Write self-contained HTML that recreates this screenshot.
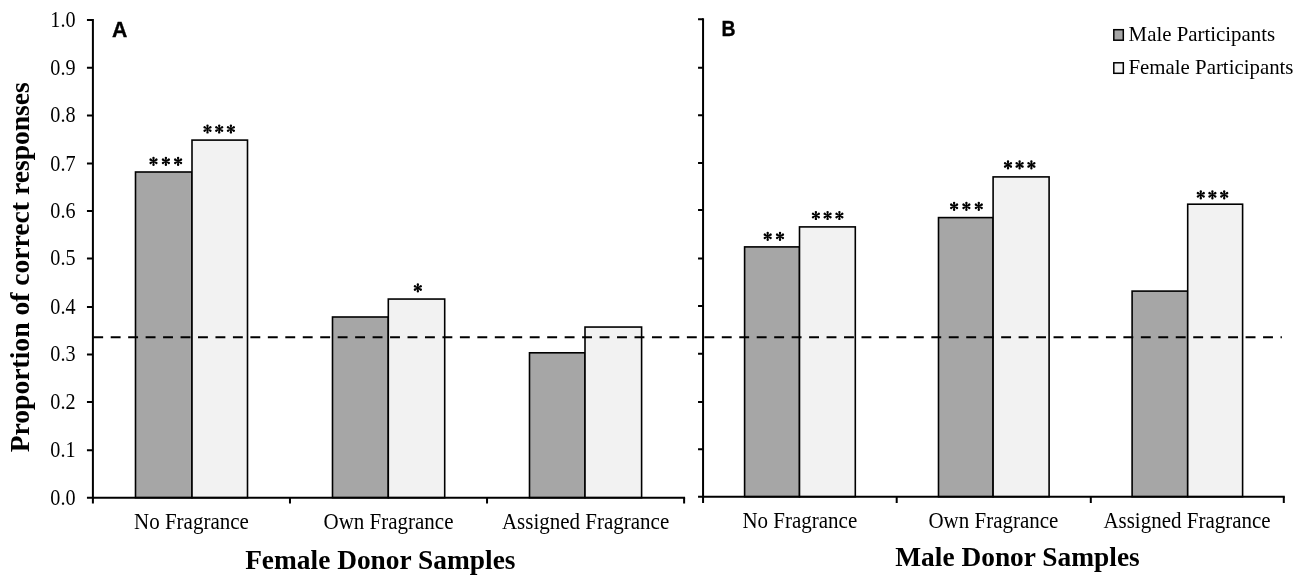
<!DOCTYPE html>
<html><head><meta charset="utf-8"><style>
html,body{margin:0;padding:0;background:#fff;}
body{width:1303px;height:581px;overflow:hidden;}
svg{display:block;filter:grayscale(1);}
text{font-family:"Liberation Serif",serif;fill:#000;}
.s{font-family:"Liberation Sans",sans-serif;font-weight:bold;}
</style></head><body>
<svg width="1303" height="581" viewBox="0 0 1303 581">
<rect width="1303" height="581" fill="#fff"/>
<!-- bars -->
<rect x="135.5" y="172.0" width="56.50" height="325.67" fill="#a6a6a6" stroke="#000" stroke-width="1.6"/>
<rect x="192.0" y="140.1" width="55.50" height="357.57" fill="#f2f2f2" stroke="#000" stroke-width="1.6"/>
<rect x="332.5" y="317.0" width="55.80" height="180.67" fill="#a6a6a6" stroke="#000" stroke-width="1.6"/>
<rect x="388.3" y="299.05" width="56.40" height="198.62" fill="#f2f2f2" stroke="#000" stroke-width="1.6"/>
<rect x="529.5" y="352.8" width="55.50" height="144.87" fill="#a6a6a6" stroke="#000" stroke-width="1.6"/>
<rect x="585.0" y="327.05" width="56.60" height="170.62" fill="#f2f2f2" stroke="#000" stroke-width="1.6"/>
<rect x="744.6" y="246.9" width="54.90" height="249.80" fill="#a6a6a6" stroke="#000" stroke-width="1.6"/>
<rect x="799.5" y="226.9" width="55.80" height="269.80" fill="#f2f2f2" stroke="#000" stroke-width="1.6"/>
<rect x="938.5" y="217.6" width="54.60" height="279.10" fill="#a6a6a6" stroke="#000" stroke-width="1.6"/>
<rect x="993.1" y="176.9" width="56.00" height="319.80" fill="#f2f2f2" stroke="#000" stroke-width="1.6"/>
<rect x="1132.1" y="291.1" width="55.60" height="205.60" fill="#a6a6a6" stroke="#000" stroke-width="1.6"/>
<rect x="1187.7" y="204.2" width="54.90" height="292.50" fill="#f2f2f2" stroke="#000" stroke-width="1.6"/>
<line x1="93.24" y1="337.15" x2="1281.9" y2="337.15" stroke="#000" stroke-width="2" stroke-dasharray="9.9 7.56"/>
<path d="M92.9,19.0 V503.5 M86.95,497.67 H685.11" fill="none" stroke="#000" stroke-width="2"/>
<path d="M86.95,450.17H92.9M86.95,401.98H92.9M86.95,354.41H92.9M86.95,306.93H92.9M86.95,258.41H92.9M86.95,211.10H92.9M86.95,163.59H92.9M86.95,115.41H92.9M86.95,67.76H92.9M86.95,20.00H92.9M289.97,497.67V503.5M487.04,497.67V503.5M684.11,497.67V503.5" fill="none" stroke="#000" stroke-width="2"/>
<path d="M703.06,18.3 V502.9 M698.04,496.7 H1284.80" fill="none" stroke="#000" stroke-width="2"/>
<path d="M698.04,449.20H703.06M698.04,401.95H703.06M698.04,353.70H703.06M698.04,306.05H703.06M698.04,258.40H703.06M698.04,210.05H703.06M698.04,163.00H703.06M698.04,115.30H703.06M698.04,67.70H703.06M698.04,19.30H703.06M896.7,496.7V502.9M1090.8,496.7V502.9M1283.8,496.7V502.9" fill="none" stroke="#000" stroke-width="2"/>
<text transform="translate(75.5,504.67) scale(0.96,1.05)" font-size="21" text-anchor="end">0.0</text>
<text transform="translate(75.5,457.17) scale(0.96,1.05)" font-size="21" text-anchor="end">0.1</text>
<text transform="translate(75.5,408.98) scale(0.96,1.05)" font-size="21" text-anchor="end">0.2</text>
<text transform="translate(75.5,361.41) scale(0.96,1.05)" font-size="21" text-anchor="end">0.3</text>
<text transform="translate(75.5,313.93) scale(0.96,1.05)" font-size="21" text-anchor="end">0.4</text>
<text transform="translate(75.5,265.41) scale(0.96,1.05)" font-size="21" text-anchor="end">0.5</text>
<text transform="translate(75.5,218.10) scale(0.96,1.05)" font-size="21" text-anchor="end">0.6</text>
<text transform="translate(75.5,170.59) scale(0.96,1.05)" font-size="21" text-anchor="end">0.7</text>
<text transform="translate(75.5,122.41) scale(0.96,1.05)" font-size="21" text-anchor="end">0.8</text>
<text transform="translate(75.5,74.76) scale(0.96,1.05)" font-size="21" text-anchor="end">0.9</text>
<text transform="translate(75.5,27.00) scale(0.96,1.05)" font-size="21" text-anchor="end">1.0</text>
<text transform="translate(28.9,452.3) rotate(-90)" font-size="27.6" font-weight="bold">Proportion of correct responses</text>
<text transform="translate(191.44,528.6) scale(1,1.06)" font-size="21" text-anchor="middle">No Fragrance</text>
<text transform="translate(799.85,527.8) scale(1,1.06)" font-size="21" text-anchor="middle">No Fragrance</text>
<text transform="translate(388.50,528.6) scale(1,1.06)" font-size="21" text-anchor="middle">Own Fragrance</text>
<text transform="translate(993.43,527.8) scale(1,1.06)" font-size="21" text-anchor="middle">Own Fragrance</text>
<text transform="translate(585.57,528.6) scale(1,1.06)" font-size="21" text-anchor="middle">Assigned Fragrance</text>
<text transform="translate(1187.01,527.8) scale(1,1.06)" font-size="21" text-anchor="middle">Assigned Fragrance</text>
<text x="380.3" y="568.8" font-size="27.4" font-weight="bold" text-anchor="middle">Female Donor Samples</text>
<text x="1017.5" y="565.5" font-size="27.4" font-weight="bold" text-anchor="middle">Male Donor Samples</text>
<path fill="#000" fill-rule="nonzero" transform="translate(153.5,161.3)" d="M-0.350,-0.000L-1.200,-3.400A1.2,1.2 0 0 1 1.200,-3.400L0.350,0.000ZM0.350,-0.000L1.200,3.400A1.2,1.2 0 0 1 -1.200,3.400L-0.350,0.000ZM-0.175,-0.303L2.344,-2.739A1.2,1.2 0 0 1 3.544,-0.661L0.175,0.303ZM0.175,-0.303L3.544,0.661A1.2,1.2 0 0 1 2.344,2.739L-0.175,0.303ZM0.175,0.303L-2.344,2.739A1.2,1.2 0 0 1 -3.544,0.661L-0.175,-0.303ZM-0.175,0.303L-3.544,-0.661A1.2,1.2 0 0 1 -2.344,-2.739L0.175,-0.303ZM-0.95,0A0.95,0.95 0 1 1 0.95,0A0.95,0.95 0 1 1 -0.95,0Z"/>
<path fill="#000" fill-rule="nonzero" transform="translate(165.9,161.3)" d="M-0.350,-0.000L-1.200,-3.400A1.2,1.2 0 0 1 1.200,-3.400L0.350,0.000ZM0.350,-0.000L1.200,3.400A1.2,1.2 0 0 1 -1.200,3.400L-0.350,0.000ZM-0.175,-0.303L2.344,-2.739A1.2,1.2 0 0 1 3.544,-0.661L0.175,0.303ZM0.175,-0.303L3.544,0.661A1.2,1.2 0 0 1 2.344,2.739L-0.175,0.303ZM0.175,0.303L-2.344,2.739A1.2,1.2 0 0 1 -3.544,0.661L-0.175,-0.303ZM-0.175,0.303L-3.544,-0.661A1.2,1.2 0 0 1 -2.344,-2.739L0.175,-0.303ZM-0.95,0A0.95,0.95 0 1 1 0.95,0A0.95,0.95 0 1 1 -0.95,0Z"/>
<path fill="#000" fill-rule="nonzero" transform="translate(178.1,161.3)" d="M-0.350,-0.000L-1.200,-3.400A1.2,1.2 0 0 1 1.200,-3.400L0.350,0.000ZM0.350,-0.000L1.200,3.400A1.2,1.2 0 0 1 -1.200,3.400L-0.350,0.000ZM-0.175,-0.303L2.344,-2.739A1.2,1.2 0 0 1 3.544,-0.661L0.175,0.303ZM0.175,-0.303L3.544,0.661A1.2,1.2 0 0 1 2.344,2.739L-0.175,0.303ZM0.175,0.303L-2.344,2.739A1.2,1.2 0 0 1 -3.544,0.661L-0.175,-0.303ZM-0.175,0.303L-3.544,-0.661A1.2,1.2 0 0 1 -2.344,-2.739L0.175,-0.303ZM-0.95,0A0.95,0.95 0 1 1 0.95,0A0.95,0.95 0 1 1 -0.95,0Z"/>
<path fill="#000" fill-rule="nonzero" transform="translate(207.5,129.0)" d="M-0.350,-0.000L-1.200,-3.400A1.2,1.2 0 0 1 1.200,-3.400L0.350,0.000ZM0.350,-0.000L1.200,3.400A1.2,1.2 0 0 1 -1.200,3.400L-0.350,0.000ZM-0.175,-0.303L2.344,-2.739A1.2,1.2 0 0 1 3.544,-0.661L0.175,0.303ZM0.175,-0.303L3.544,0.661A1.2,1.2 0 0 1 2.344,2.739L-0.175,0.303ZM0.175,0.303L-2.344,2.739A1.2,1.2 0 0 1 -3.544,0.661L-0.175,-0.303ZM-0.175,0.303L-3.544,-0.661A1.2,1.2 0 0 1 -2.344,-2.739L0.175,-0.303ZM-0.95,0A0.95,0.95 0 1 1 0.95,0A0.95,0.95 0 1 1 -0.95,0Z"/>
<path fill="#000" fill-rule="nonzero" transform="translate(219.2,129.0)" d="M-0.350,-0.000L-1.200,-3.400A1.2,1.2 0 0 1 1.200,-3.400L0.350,0.000ZM0.350,-0.000L1.200,3.400A1.2,1.2 0 0 1 -1.200,3.400L-0.350,0.000ZM-0.175,-0.303L2.344,-2.739A1.2,1.2 0 0 1 3.544,-0.661L0.175,0.303ZM0.175,-0.303L3.544,0.661A1.2,1.2 0 0 1 2.344,2.739L-0.175,0.303ZM0.175,0.303L-2.344,2.739A1.2,1.2 0 0 1 -3.544,0.661L-0.175,-0.303ZM-0.175,0.303L-3.544,-0.661A1.2,1.2 0 0 1 -2.344,-2.739L0.175,-0.303ZM-0.95,0A0.95,0.95 0 1 1 0.95,0A0.95,0.95 0 1 1 -0.95,0Z"/>
<path fill="#000" fill-rule="nonzero" transform="translate(230.9,129.0)" d="M-0.350,-0.000L-1.200,-3.400A1.2,1.2 0 0 1 1.200,-3.400L0.350,0.000ZM0.350,-0.000L1.200,3.400A1.2,1.2 0 0 1 -1.200,3.400L-0.350,0.000ZM-0.175,-0.303L2.344,-2.739A1.2,1.2 0 0 1 3.544,-0.661L0.175,0.303ZM0.175,-0.303L3.544,0.661A1.2,1.2 0 0 1 2.344,2.739L-0.175,0.303ZM0.175,0.303L-2.344,2.739A1.2,1.2 0 0 1 -3.544,0.661L-0.175,-0.303ZM-0.175,0.303L-3.544,-0.661A1.2,1.2 0 0 1 -2.344,-2.739L0.175,-0.303ZM-0.95,0A0.95,0.95 0 1 1 0.95,0A0.95,0.95 0 1 1 -0.95,0Z"/>
<path fill="#000" fill-rule="nonzero" transform="translate(417.85,287.96)" d="M-0.350,-0.000L-1.200,-3.400A1.2,1.2 0 0 1 1.200,-3.400L0.350,0.000ZM0.350,-0.000L1.200,3.400A1.2,1.2 0 0 1 -1.200,3.400L-0.350,0.000ZM-0.175,-0.303L2.344,-2.739A1.2,1.2 0 0 1 3.544,-0.661L0.175,0.303ZM0.175,-0.303L3.544,0.661A1.2,1.2 0 0 1 2.344,2.739L-0.175,0.303ZM0.175,0.303L-2.344,2.739A1.2,1.2 0 0 1 -3.544,0.661L-0.175,-0.303ZM-0.175,0.303L-3.544,-0.661A1.2,1.2 0 0 1 -2.344,-2.739L0.175,-0.303ZM-0.95,0A0.95,0.95 0 1 1 0.95,0A0.95,0.95 0 1 1 -0.95,0Z"/>
<path fill="#000" fill-rule="nonzero" transform="translate(767.7,236.3)" d="M-0.350,-0.000L-1.200,-3.400A1.2,1.2 0 0 1 1.200,-3.400L0.350,0.000ZM0.350,-0.000L1.200,3.400A1.2,1.2 0 0 1 -1.200,3.400L-0.350,0.000ZM-0.175,-0.303L2.344,-2.739A1.2,1.2 0 0 1 3.544,-0.661L0.175,0.303ZM0.175,-0.303L3.544,0.661A1.2,1.2 0 0 1 2.344,2.739L-0.175,0.303ZM0.175,0.303L-2.344,2.739A1.2,1.2 0 0 1 -3.544,0.661L-0.175,-0.303ZM-0.175,0.303L-3.544,-0.661A1.2,1.2 0 0 1 -2.344,-2.739L0.175,-0.303ZM-0.95,0A0.95,0.95 0 1 1 0.95,0A0.95,0.95 0 1 1 -0.95,0Z"/>
<path fill="#000" fill-rule="nonzero" transform="translate(780.0,236.3)" d="M-0.350,-0.000L-1.200,-3.400A1.2,1.2 0 0 1 1.200,-3.400L0.350,0.000ZM0.350,-0.000L1.200,3.400A1.2,1.2 0 0 1 -1.200,3.400L-0.350,0.000ZM-0.175,-0.303L2.344,-2.739A1.2,1.2 0 0 1 3.544,-0.661L0.175,0.303ZM0.175,-0.303L3.544,0.661A1.2,1.2 0 0 1 2.344,2.739L-0.175,0.303ZM0.175,0.303L-2.344,2.739A1.2,1.2 0 0 1 -3.544,0.661L-0.175,-0.303ZM-0.175,0.303L-3.544,-0.661A1.2,1.2 0 0 1 -2.344,-2.739L0.175,-0.303ZM-0.95,0A0.95,0.95 0 1 1 0.95,0A0.95,0.95 0 1 1 -0.95,0Z"/>
<path fill="#000" fill-rule="nonzero" transform="translate(815.9,215.5)" d="M-0.350,-0.000L-1.200,-3.400A1.2,1.2 0 0 1 1.200,-3.400L0.350,0.000ZM0.350,-0.000L1.200,3.400A1.2,1.2 0 0 1 -1.200,3.400L-0.350,0.000ZM-0.175,-0.303L2.344,-2.739A1.2,1.2 0 0 1 3.544,-0.661L0.175,0.303ZM0.175,-0.303L3.544,0.661A1.2,1.2 0 0 1 2.344,2.739L-0.175,0.303ZM0.175,0.303L-2.344,2.739A1.2,1.2 0 0 1 -3.544,0.661L-0.175,-0.303ZM-0.175,0.303L-3.544,-0.661A1.2,1.2 0 0 1 -2.344,-2.739L0.175,-0.303ZM-0.95,0A0.95,0.95 0 1 1 0.95,0A0.95,0.95 0 1 1 -0.95,0Z"/>
<path fill="#000" fill-rule="nonzero" transform="translate(827.6,215.5)" d="M-0.350,-0.000L-1.200,-3.400A1.2,1.2 0 0 1 1.200,-3.400L0.350,0.000ZM0.350,-0.000L1.200,3.400A1.2,1.2 0 0 1 -1.200,3.400L-0.350,0.000ZM-0.175,-0.303L2.344,-2.739A1.2,1.2 0 0 1 3.544,-0.661L0.175,0.303ZM0.175,-0.303L3.544,0.661A1.2,1.2 0 0 1 2.344,2.739L-0.175,0.303ZM0.175,0.303L-2.344,2.739A1.2,1.2 0 0 1 -3.544,0.661L-0.175,-0.303ZM-0.175,0.303L-3.544,-0.661A1.2,1.2 0 0 1 -2.344,-2.739L0.175,-0.303ZM-0.95,0A0.95,0.95 0 1 1 0.95,0A0.95,0.95 0 1 1 -0.95,0Z"/>
<path fill="#000" fill-rule="nonzero" transform="translate(839.4,215.5)" d="M-0.350,-0.000L-1.200,-3.400A1.2,1.2 0 0 1 1.200,-3.400L0.350,0.000ZM0.350,-0.000L1.200,3.400A1.2,1.2 0 0 1 -1.200,3.400L-0.350,0.000ZM-0.175,-0.303L2.344,-2.739A1.2,1.2 0 0 1 3.544,-0.661L0.175,0.303ZM0.175,-0.303L3.544,0.661A1.2,1.2 0 0 1 2.344,2.739L-0.175,0.303ZM0.175,0.303L-2.344,2.739A1.2,1.2 0 0 1 -3.544,0.661L-0.175,-0.303ZM-0.175,0.303L-3.544,-0.661A1.2,1.2 0 0 1 -2.344,-2.739L0.175,-0.303ZM-0.95,0A0.95,0.95 0 1 1 0.95,0A0.95,0.95 0 1 1 -0.95,0Z"/>
<path fill="#000" fill-rule="nonzero" transform="translate(954.1,206.3)" d="M-0.350,-0.000L-1.200,-3.400A1.2,1.2 0 0 1 1.200,-3.400L0.350,0.000ZM0.350,-0.000L1.200,3.400A1.2,1.2 0 0 1 -1.200,3.400L-0.350,0.000ZM-0.175,-0.303L2.344,-2.739A1.2,1.2 0 0 1 3.544,-0.661L0.175,0.303ZM0.175,-0.303L3.544,0.661A1.2,1.2 0 0 1 2.344,2.739L-0.175,0.303ZM0.175,0.303L-2.344,2.739A1.2,1.2 0 0 1 -3.544,0.661L-0.175,-0.303ZM-0.175,0.303L-3.544,-0.661A1.2,1.2 0 0 1 -2.344,-2.739L0.175,-0.303ZM-0.95,0A0.95,0.95 0 1 1 0.95,0A0.95,0.95 0 1 1 -0.95,0Z"/>
<path fill="#000" fill-rule="nonzero" transform="translate(966.4,206.3)" d="M-0.350,-0.000L-1.200,-3.400A1.2,1.2 0 0 1 1.200,-3.400L0.350,0.000ZM0.350,-0.000L1.200,3.400A1.2,1.2 0 0 1 -1.200,3.400L-0.350,0.000ZM-0.175,-0.303L2.344,-2.739A1.2,1.2 0 0 1 3.544,-0.661L0.175,0.303ZM0.175,-0.303L3.544,0.661A1.2,1.2 0 0 1 2.344,2.739L-0.175,0.303ZM0.175,0.303L-2.344,2.739A1.2,1.2 0 0 1 -3.544,0.661L-0.175,-0.303ZM-0.175,0.303L-3.544,-0.661A1.2,1.2 0 0 1 -2.344,-2.739L0.175,-0.303ZM-0.95,0A0.95,0.95 0 1 1 0.95,0A0.95,0.95 0 1 1 -0.95,0Z"/>
<path fill="#000" fill-rule="nonzero" transform="translate(978.8,206.3)" d="M-0.350,-0.000L-1.200,-3.400A1.2,1.2 0 0 1 1.200,-3.400L0.350,0.000ZM0.350,-0.000L1.200,3.400A1.2,1.2 0 0 1 -1.200,3.400L-0.350,0.000ZM-0.175,-0.303L2.344,-2.739A1.2,1.2 0 0 1 3.544,-0.661L0.175,0.303ZM0.175,-0.303L3.544,0.661A1.2,1.2 0 0 1 2.344,2.739L-0.175,0.303ZM0.175,0.303L-2.344,2.739A1.2,1.2 0 0 1 -3.544,0.661L-0.175,-0.303ZM-0.175,0.303L-3.544,-0.661A1.2,1.2 0 0 1 -2.344,-2.739L0.175,-0.303ZM-0.95,0A0.95,0.95 0 1 1 0.95,0A0.95,0.95 0 1 1 -0.95,0Z"/>
<path fill="#000" fill-rule="nonzero" transform="translate(1008.0,164.9)" d="M-0.350,-0.000L-1.200,-3.400A1.2,1.2 0 0 1 1.200,-3.400L0.350,0.000ZM0.350,-0.000L1.200,3.400A1.2,1.2 0 0 1 -1.200,3.400L-0.350,0.000ZM-0.175,-0.303L2.344,-2.739A1.2,1.2 0 0 1 3.544,-0.661L0.175,0.303ZM0.175,-0.303L3.544,0.661A1.2,1.2 0 0 1 2.344,2.739L-0.175,0.303ZM0.175,0.303L-2.344,2.739A1.2,1.2 0 0 1 -3.544,0.661L-0.175,-0.303ZM-0.175,0.303L-3.544,-0.661A1.2,1.2 0 0 1 -2.344,-2.739L0.175,-0.303ZM-0.95,0A0.95,0.95 0 1 1 0.95,0A0.95,0.95 0 1 1 -0.95,0Z"/>
<path fill="#000" fill-rule="nonzero" transform="translate(1019.6,164.9)" d="M-0.350,-0.000L-1.200,-3.400A1.2,1.2 0 0 1 1.200,-3.400L0.350,0.000ZM0.350,-0.000L1.200,3.400A1.2,1.2 0 0 1 -1.200,3.400L-0.350,0.000ZM-0.175,-0.303L2.344,-2.739A1.2,1.2 0 0 1 3.544,-0.661L0.175,0.303ZM0.175,-0.303L3.544,0.661A1.2,1.2 0 0 1 2.344,2.739L-0.175,0.303ZM0.175,0.303L-2.344,2.739A1.2,1.2 0 0 1 -3.544,0.661L-0.175,-0.303ZM-0.175,0.303L-3.544,-0.661A1.2,1.2 0 0 1 -2.344,-2.739L0.175,-0.303ZM-0.95,0A0.95,0.95 0 1 1 0.95,0A0.95,0.95 0 1 1 -0.95,0Z"/>
<path fill="#000" fill-rule="nonzero" transform="translate(1031.4,164.9)" d="M-0.350,-0.000L-1.200,-3.400A1.2,1.2 0 0 1 1.200,-3.400L0.350,0.000ZM0.350,-0.000L1.200,3.400A1.2,1.2 0 0 1 -1.200,3.400L-0.350,0.000ZM-0.175,-0.303L2.344,-2.739A1.2,1.2 0 0 1 3.544,-0.661L0.175,0.303ZM0.175,-0.303L3.544,0.661A1.2,1.2 0 0 1 2.344,2.739L-0.175,0.303ZM0.175,0.303L-2.344,2.739A1.2,1.2 0 0 1 -3.544,0.661L-0.175,-0.303ZM-0.175,0.303L-3.544,-0.661A1.2,1.2 0 0 1 -2.344,-2.739L0.175,-0.303ZM-0.95,0A0.95,0.95 0 1 1 0.95,0A0.95,0.95 0 1 1 -0.95,0Z"/>
<path fill="#000" fill-rule="nonzero" transform="translate(1200.8,194.8)" d="M-0.350,-0.000L-1.200,-3.400A1.2,1.2 0 0 1 1.200,-3.400L0.350,0.000ZM0.350,-0.000L1.200,3.400A1.2,1.2 0 0 1 -1.200,3.400L-0.350,0.000ZM-0.175,-0.303L2.344,-2.739A1.2,1.2 0 0 1 3.544,-0.661L0.175,0.303ZM0.175,-0.303L3.544,0.661A1.2,1.2 0 0 1 2.344,2.739L-0.175,0.303ZM0.175,0.303L-2.344,2.739A1.2,1.2 0 0 1 -3.544,0.661L-0.175,-0.303ZM-0.175,0.303L-3.544,-0.661A1.2,1.2 0 0 1 -2.344,-2.739L0.175,-0.303ZM-0.95,0A0.95,0.95 0 1 1 0.95,0A0.95,0.95 0 1 1 -0.95,0Z"/>
<path fill="#000" fill-rule="nonzero" transform="translate(1212.4,194.8)" d="M-0.350,-0.000L-1.200,-3.400A1.2,1.2 0 0 1 1.200,-3.400L0.350,0.000ZM0.350,-0.000L1.200,3.400A1.2,1.2 0 0 1 -1.200,3.400L-0.350,0.000ZM-0.175,-0.303L2.344,-2.739A1.2,1.2 0 0 1 3.544,-0.661L0.175,0.303ZM0.175,-0.303L3.544,0.661A1.2,1.2 0 0 1 2.344,2.739L-0.175,0.303ZM0.175,0.303L-2.344,2.739A1.2,1.2 0 0 1 -3.544,0.661L-0.175,-0.303ZM-0.175,0.303L-3.544,-0.661A1.2,1.2 0 0 1 -2.344,-2.739L0.175,-0.303ZM-0.95,0A0.95,0.95 0 1 1 0.95,0A0.95,0.95 0 1 1 -0.95,0Z"/>
<path fill="#000" fill-rule="nonzero" transform="translate(1224.2,194.8)" d="M-0.350,-0.000L-1.200,-3.400A1.2,1.2 0 0 1 1.200,-3.400L0.350,0.000ZM0.350,-0.000L1.200,3.400A1.2,1.2 0 0 1 -1.200,3.400L-0.350,0.000ZM-0.175,-0.303L2.344,-2.739A1.2,1.2 0 0 1 3.544,-0.661L0.175,0.303ZM0.175,-0.303L3.544,0.661A1.2,1.2 0 0 1 2.344,2.739L-0.175,0.303ZM0.175,0.303L-2.344,2.739A1.2,1.2 0 0 1 -3.544,0.661L-0.175,-0.303ZM-0.175,0.303L-3.544,-0.661A1.2,1.2 0 0 1 -2.344,-2.739L0.175,-0.303ZM-0.95,0A0.95,0.95 0 1 1 0.95,0A0.95,0.95 0 1 1 -0.95,0Z"/>
<text class="s" x="112.0" y="36.7" font-size="21.2" stroke="#000" stroke-width="0.35">A</text>
<text class="s" transform="translate(721.4,35.7) scale(0.9,1)" font-size="21.6" stroke="#000" stroke-width="0.35">B</text>
<rect x="1113.8" y="29.7" width="9.5" height="10.5" fill="#a6a6a6" stroke="#000" stroke-width="1.5"/>
<rect x="1113.8" y="62.8" width="9.5" height="10.5" fill="#f2f2f2" stroke="#000" stroke-width="1.5"/>
<text x="1128.6" y="41.3" font-size="20.85">Male Participants</text>
<text x="1128.5" y="74.1" font-size="20.85">Female Participants</text>
</svg>
</body></html>
